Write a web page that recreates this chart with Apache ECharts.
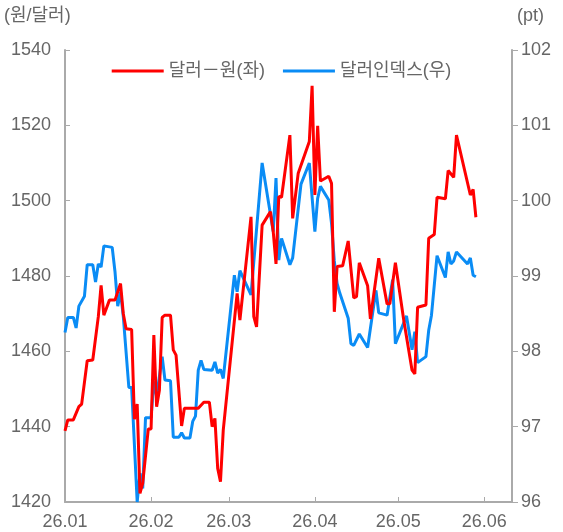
<!DOCTYPE html>
<html>
<head>
<meta charset="utf-8">
<script src="https://cdn.jsdelivr.net/npm/echarts@6/dist/echarts.min.js"></script>
<style>
  html, body { margin: 0; padding: 0; background: #fff; }
  #chart { width: 563px; height: 532px; }
</style>
</head>
<body>
<div id="chart"></div>
<script>
// 달러-원 (left axis), vertices by date (MM-DD, 2026)
var krwDates = ['01-01', '01-02', '01-04', '01-06', '01-07', '01-09', '01-11', '01-13', '01-14', '01-15',
  '01-17', '01-19', '01-21', '01-22', '01-23', '01-25', '01-26', '01-27', '01-28', '01-29',
  '01-31', '02-01', '02-02', '02-03', '02-04', '02-05', '02-06', '02-08', '02-09', '02-10',
  '02-12', '02-13', '02-18', '02-20', '02-22', '02-23', '02-24', '02-25', '02-26', '02-27',
  '03-04', '03-05', '03-09', '03-10', '03-11', '03-13', '03-16', '03-17', '03-18', '03-19',
  '03-20', '03-23', '03-24', '03-26', '03-30', '03-31', '04-01', '04-02', '04-03', '04-06',
  '04-07', '04-08', '04-09', '04-11', '04-13', '04-15', '04-16', '04-17', '04-20', '04-21',
  '04-24', '04-27', '04-28', '04-30', '05-03', '05-06', '05-07', '05-08', '05-11', '05-12',
  '05-14', '05-15', '05-18', '05-19', '05-21', '05-22', '05-27', '05-28', '05-29']
var krwValues = [1438.9, 1441.8, 1441.8, 1445.3, 1446, 1457.5, 1457.7, 1469.2, 1477.5, 1469.6,
  1473.6, 1473.6, 1478, 1470, 1466, 1465.8, 1442, 1446, 1422.3, 1425,
  1439.4, 1439.4, 1464.3, 1445.3, 1449.7, 1469, 1469.6, 1469.6, 1460.4, 1459,
  1440.2, 1444.9, 1444.9, 1446.5, 1446.5, 1440, 1442.2, 1428.9, 1425.4, 1439.1,
  1475.4, 1468.3, 1495.7, 1469.2, 1466.5, 1493.5, 1497.1, 1491.8, 1483.2, 1501.1,
  1500.9, 1517.4, 1495.3, 1507.3, 1515.7, 1530.5, 1501.5, 1519.9, 1505.2, 1506.5,
  1504.6, 1470.5, 1482.5, 1482.7, 1489.3, 1474.2, 1474.5, 1483.5, 1477.4, 1468.6,
  1484.7, 1472.6, 1472.6, 1483.5, 1468.3, 1455, 1454, 1471.7, 1472.3, 1490,
  1491, 1500.9, 1500.5, 1508, 1506.2, 1517.4, 1501.5, 1503, 1495.6]

// 달러인덱스 (right axis)
var dxyDates = ['01-01', '01-02', '01-04', '01-05', '01-06', '01-08', '01-09', '01-11', '01-12', '01-13',
  '01-14', '01-15', '01-18', '01-19', '01-20', '01-21', '01-22', '01-24', '01-25', '01-27',
  '01-28', '01-29', '01-30', '02-01', '02-02', '02-03', '02-05', '02-06', '02-08', '02-09',
  '02-11', '02-12', '02-13', '02-15', '02-16', '02-17', '02-18', '02-19', '02-20', '02-23',
  '02-24', '02-25', '02-26', '02-27', '03-03', '03-04', '03-05', '03-09', '03-13', '03-17',
  '03-18', '03-19', '03-20', '03-23', '03-24', '03-27', '03-30', '04-01', '04-02', '04-03',
  '04-06', '04-07', '04-08', '04-09', '04-10', '04-13', '04-14', '04-15', '04-17', '04-20',
  '04-23', '04-24', '04-27', '04-29', '04-30', '05-04', '05-06', '05-07', '05-08', '05-11',
  '05-12', '05-13', '05-15', '05-18', '05-19', '05-20', '05-21', '05-22', '05-26', '05-27',
  '05-28', '05-29']
var dxyValues = [98.25, 98.45, 98.45, 98.31, 98.6, 98.73, 99.15, 99.15, 98.92, 99.16,
  99.12, 99.4, 99.38, 99.06, 98.6, 98.79, 98.46, 97.52, 97.52, 96.0,
  96.38, 96.18, 97.12, 97.12, 97.6, 97.4, 97.93, 97.62, 97.61, 96.86,
  96.86, 96.92, 96.85, 96.85, 97.07, 97.14, 97.75, 97.88, 97.76, 97.75,
  97.86, 97.71, 97.76, 97.64, 99.01, 98.79, 99.07, 98.75, 100.5, 99.59,
  100.3, 99.21, 99.5, 99.15, 99.24, 100.22, 100.5, 99.59, 100.03, 100.19,
  100.01, 99.7, 99.2, 98.9, 98.77, 98.44, 98.1, 98.08, 98.23, 98.05,
  98.81, 98.51, 98.48, 98.95, 98.1, 98.47, 98.02, 98.26, 97.85, 97.93,
  98.28, 98.48, 99.27, 98.98, 99.32, 99.16, 99.2, 99.32, 99.16, 99.24,
  99.01, 98.99]

var seriesNames = ['달러－원(좌)', '달러인덱스(우)']
var monthLabels = ['26.01', '26.02', '26.03', '26.04', '26.05', '26.06']

// calendar days on the x axis: 2026-01-01 .. 2026-06-11
var monthDays = [31, 28, 31, 30, 31, 11]
var categories = []
monthDays.forEach(function (n, m) {
  for (var d = 1; d <= n; d++) {
    categories.push((m < 9 ? '0' : '') + (m + 1) + '-' + (d < 10 ? '0' : '') + d)
  }
})

function toPairs(dates, values) {
  return dates.map(function (d, i) { return [categories.indexOf(d), values[i]] })
}
function isMonthStart(idx, val) {
  return categories[idx].slice(3) === '01'
}

var font = 'Liberation Sans, Noto Sans CJK KR, sans-serif'
var gray = '#666'
var axisGray = '#aaa'

var chart = echarts.init(document.getElementById('chart'))
chart.setOption({
  animation: false,
  backgroundColor: '#fff',
  grid: { left: 65, right: 51, top: 50, bottom: 30, containLabel: false },
  legend: {
    top: 57,
    left: 'center',
    icon: 'rect',
    itemWidth: 52,
    itemHeight: 3,
    itemGap: 18,
    data: seriesNames,
    textStyle: { fontSize: 18, color: gray, fontFamily: font }
  },
  graphic: [
    { type: 'text', left: 4, top: 7, style: { text: '(원/달러)', fontSize: 18, fill: gray, fontFamily: font } },
    { type: 'text', left: 517, top: 7, style: { text: '(pt)', fontSize: 18, fill: gray, fontFamily: font } }
  ],
  xAxis: {
    type: 'category',
    data: categories,
    boundaryGap: false,
    axisLine: { lineStyle: { color: axisGray, width: 2 } },
    axisTick: { inside: true, length: 5, interval: isMonthStart, lineStyle: { color: axisGray } },
    axisLabel: {
      interval: isMonthStart,
      margin: 11,
      fontSize: 18,
      color: gray,
      fontFamily: font,
      formatter: function (v) { return monthLabels[parseInt(v.slice(0, 2), 10) - 1] }
    },
    splitLine: { show: false }
  },
  yAxis: [{
    type: 'value',
    min: 1420,
    max: 1540,
    interval: 20,
    axisLine: { show: true, lineStyle: { color: axisGray, width: 2 } },
    axisTick: { show: true, inside: true, length: 5, lineStyle: { color: axisGray } },
    axisLabel: { margin: 14, fontSize: 18, color: gray, fontFamily: font, formatter: function (v) { return String(v) } },
    splitLine: { show: false }
  }, {
    type: 'value',
    min: 96,
    max: 102,
    interval: 1,
    axisLine: { show: true, lineStyle: { color: axisGray, width: 2 } },
    axisTick: { show: true, length: 6, lineStyle: { color: axisGray } },
    axisLabel: { margin: 9, fontSize: 18, color: gray, fontFamily: font },
    splitLine: { show: false }
  }],
  series: [{
    name: seriesNames[0],
    type: 'line',
    yAxisIndex: 0,
    showSymbol: false,
    z: 3,
    itemStyle: { color: '#ff0000' },
    lineStyle: { color: '#ff0000', width: 3 },
    data: toPairs(krwDates, krwValues)
  }, {
    name: seriesNames[1],
    type: 'line',
    yAxisIndex: 1,
    showSymbol: false,
    z: 2,
    itemStyle: { color: '#0a8cf5' },
    lineStyle: { color: '#0a8cf5', width: 3 },
    data: toPairs(dxyDates, dxyValues)
  }]
})
</script>
</body>
</html>
